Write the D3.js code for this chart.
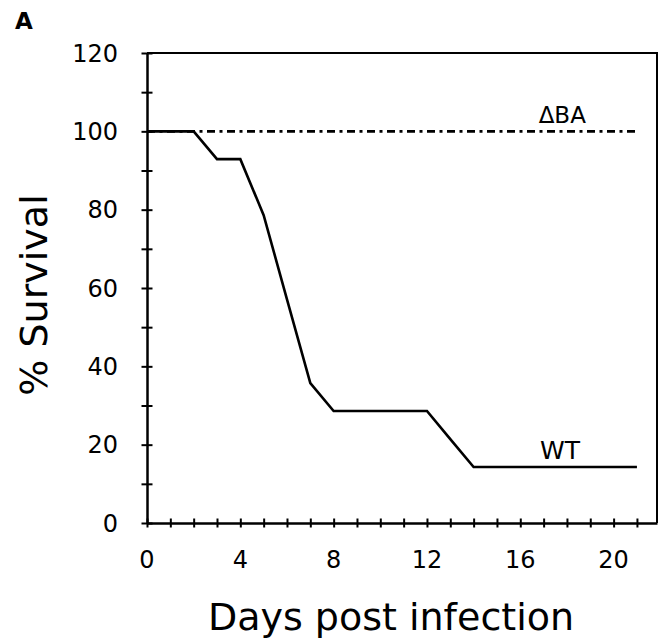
<!DOCTYPE html>
<html lang="en">
<head>
<meta charset="utf-8">
<script src="https://d3js.org/d3.v7.min.js"></script>
<style>
  body { margin: 0; background: #fff; }
  text { font-family: "DejaVu Sans", sans-serif; fill: #000; }
</style>
</head>
<body>
<script>
// survival data (% alive per day)
var days = [0, 1, 2, 3, 4, 5, 6, 7, 8, 9, 10, 11, 12, 13, 14, 15, 16, 17, 18, 19, 20, 21];
var wt   = [100, 100, 100, 92.9, 92.9, 78.6, 57.1, 35.7, 28.6, 28.6, 28.6, 28.6, 28.6, 21.4, 14.3, 14.3, 14.3, 14.3, 14.3, 14.3, 14.3, 14.3];
var dba  = [100, 100, 100, 100, 100, 100, 100, 100, 100, 100, 100, 100, 100, 100, 100, 100, 100, 100, 100, 100, 100, 100];
var xTickLabels = [0, 4, 8, 12, 16, 20];
var yTickLabels = [0, 20, 40, 60, 80, 100, 120];

const W = 663, H = 644;
const mLeft = 147, mRight = 657, mTop = 53, mBottom = 523;

const svg = d3.select("body").append("svg")
  .attr("width", W).attr("height", H);

var x = d3.scaleLinear().domain([0, 21.86]).range([mLeft, mRight]);
var y = d3.scaleLinear().domain([0, 120]).range([mBottom, mTop]);

// frame top + right
svg.append("path")
  .attr("d", "M" + mLeft + "," + mTop + "H" + mRight + "V" + mBottom)
  .attr("fill", "none").attr("stroke", "#000").attr("stroke-width", 2);

// y axis
var yAxis = svg.append("g").attr("transform", "translate(" + mLeft + ",0)")
  .call(d3.axisLeft(y).tickValues(d3.range(0, 121, 10)).tickSizeOuter(0).tickFormat(""));
yAxis.selectAll(".tick line").attr("x1", -5.5).attr("x2", 5.5).attr("stroke-width", 2);
yAxis.select(".domain").attr("stroke-width", 2.5);
yAxis.selectAll(".ylab").data(yTickLabels).enter().append("text")
  .attr("class", "ylab")
  .attr("x", -29).attr("y", d => y(d)).attr("dy", "0.36em")
  .attr("text-anchor", "end").style("font-size", "24px")
  .text(d => d);

// x axis
var xAxis = svg.append("g").attr("transform", "translate(0," + mBottom + ")")
  .call(d3.axisBottom(x).tickValues(days).tickSizeOuter(0).tickFormat(""));
xAxis.selectAll(".tick line").attr("y1", -4.5).attr("y2", 4.5).attr("stroke-width", 2);
xAxis.select(".domain").attr("stroke-width", 2.5);
xAxis.selectAll(".xlab").data(xTickLabels).enter().append("text")
  .attr("class", "xlab")
  .attr("x", d => x(d)).attr("y", 45)
  .attr("text-anchor", "middle").style("font-size", "24px")
  .text(d => d);

var line = d3.line().x((d, i) => x(days[i])).y(d => y(d));

// ΔBA dash-dot
svg.append("path").datum(dba)
  .attr("d", line).attr("fill", "none")
  .attr("stroke", "#000").attr("stroke-width", 2.6)
  .attr("stroke-dasharray", "8,4.5,3,4.5");

// WT
svg.append("path").datum(wt)
  .attr("d", line).attr("fill", "none")
  .attr("stroke", "#000").attr("stroke-width", 2.6)
  .attr("stroke-linejoin", "miter");

// series labels
svg.append("text").attr("x", x(17.8)).attr("y", y(100) - 8)
  .attr("text-anchor", "middle").style("font-size", "23px").text("ΔBA");
svg.append("text").attr("x", x(17.7)).attr("y", y(14.3) - 8)
  .attr("text-anchor", "middle").style("font-size", "25px").text("WT");

// axis titles
svg.append("text")
  .attr("transform", "translate(47,295) rotate(-90)")
  .attr("text-anchor", "middle").style("font-size", "38px")
  .text("% Survival");
svg.append("text").attr("x", 391).attr("y", 630)
  .attr("text-anchor", "middle").style("font-size", "38px")
  .text("Days post infection");

// panel letter
svg.append("text").attr("x", 15).attr("y", 29)
  .style("font-size", "23px").style("font-weight", "bold")
  .text("A");
</script>
</body>
</html>
